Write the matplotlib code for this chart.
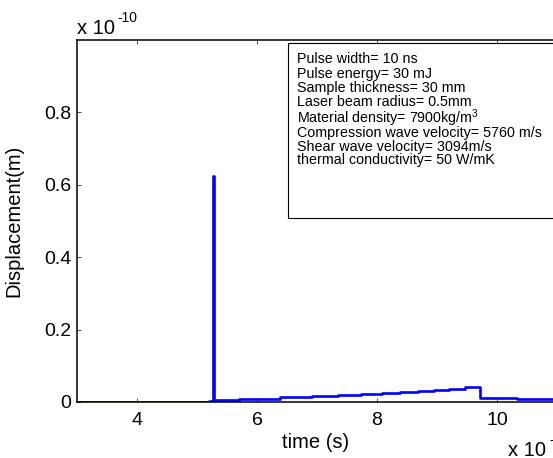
import matplotlib
matplotlib.use('Agg')
import matplotlib.pyplot as plt
import matplotlib.patches as patches

plt.rcParams['font.family'] = ['Liberation Sans', 'DejaVu Sans']
plt.rcParams['mathtext.fontset'] = 'custom'
plt.rcParams['mathtext.rm'] = 'Liberation Sans'
plt.rcParams['mathtext.it'] = 'Liberation Sans:italic'

# time in units of 1e-6 s, displacement in units of 1e-10 m (step levels)
time_us = [3.0, 5.20, 5.25, 5.27, 5.29, 5.70, 6.38, 6.91, 7.35, 7.74, 8.08,
           8.39, 8.68, 8.95, 9.20, 9.47, 9.72, 10.33, 12.0]
disp = [0.0, 0.002, 0.004, 0.625, 0.005, 0.008, 0.013, 0.016, 0.019, 0.022,
        0.024, 0.027, 0.0295, 0.034, 0.037, 0.042, 0.012, 0.008, 0.008]

xticks = [4, 6, 8, 10, 12]
yticks = [0, 0.2, 0.4, 0.6, 0.8]

info_lines = [
    'Pulse width= 10 ns',
    'Pulse energy= 30 mJ',
    'Sample thickness= 30 mm',
    'Laser beam radius= 0.5mm',
    'Material density= 7900kg/m$^3$',
    'Compression wave velocity= 5760 m/s',
    'Shear wave velocity= 3094m/s',
    'thermal conductivity= 50 W/mK',
]
# baselines in pixels from the top
info_y = [63.2, 77.8, 91.8, 106.2, 123.0, 136.8, 150.5, 164.5]

W, H = 553, 458
fig = plt.figure(figsize=(W / 100, H / 100), dpi=100)
ax = fig.add_axes([77 / W, 56 / H, 540 / W, 362 / H])

ax.plot(time_us, disp, drawstyle='steps-post', color='#0000ff', lw=1.9)
ax.set_xlim(3, 12)
ax.set_ylim(0, 1.0)
ax.set_xticks(xticks)
ax.set_yticks(yticks)
ax.set_yticklabels(['0', '0.2', '0.4', '0.6', '0.8'])
ax.tick_params(direction='in', top=True, right=True, length=3, width=0.6,
               labelsize=14, color='#333333')
ax.tick_params(axis='x', pad=7)
ax.tick_params(axis='y', pad=4)
for s in ax.spines.values():
    s.set_linewidth(1.1)

ax.set_ylabel('Displacement(m)', fontsize=14.5)
ax.yaxis.set_label_coords((23 - 77) / 540, 0.5)
ax.set_xlabel('time (s)', fontsize=14.5)
ax.xaxis.set_label_coords((316 - 77) / 540, -(433 - 402) / 362)


def ftext(x, y, s, **kw):
    return fig.text(x / W, 1 - y / H, s, **kw)


# exponent labels
ftext(77, 34, 'x 10', fontsize=14.5, va='baseline')
ftext(117, 22, '-10', fontsize=10, va='baseline')
ftext(508, 456, 'x 10', fontsize=14.5, va='baseline')
ftext(549, 444, '-6', fontsize=10, va='baseline')

# parameter box
rect = patches.Rectangle((288 / W, 1 - 218 / H), (640 - 288) / W, (218 - 43) / H,
                         transform=fig.transFigure, facecolor='white',
                         edgecolor='black', lw=0.8, zorder=2)
fig.add_artist(rect)
for s, y in zip(info_lines, info_y):
    ftext(297, y, s, fontsize=10.3, va='baseline', zorder=3)

fig.savefig('out.png', dpi=100)
